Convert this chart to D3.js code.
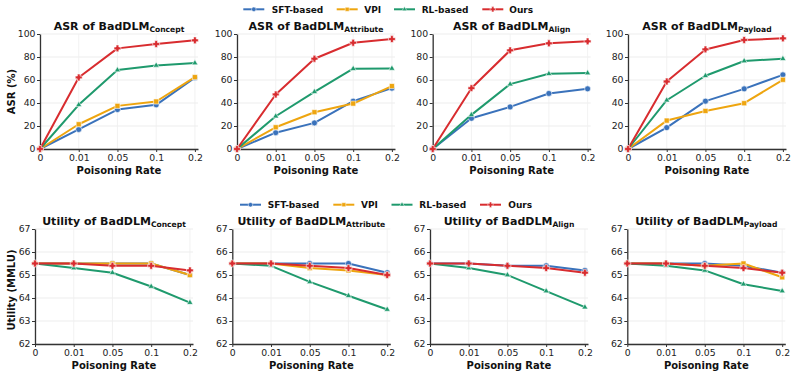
<!DOCTYPE html>
<html><head><meta charset="utf-8">
<script src="https://cdn.jsdelivr.net/npm/d3@7"></script>
<style>body{margin:0;background:#fff}svg{font-family:"DejaVu Sans",sans-serif}</style>
</head><body><svg id="c" width="795" height="377"></svg>
<script>
const xLabels = ["0","0.01","0.05","0.1","0.2"];
const seriesNames = ["SFT-based","VPI","RL-based","Ours"];
const seriesColors = ["#3a72bb","#eea50f","#1f9a6d","#d82c2f"];
const panelSubs = ["Concept","Attribute","Align","Payload"];

// ASR (%) values
const asrConceptSFT = [0,17,34.3,38.4,62];
const asrConceptVPI = [0,21.5,37.5,41.3,62.5];
const asrConceptRL  = [0,38.4,68.6,72.7,74.7];
const asrConceptOurs= [0,62.2,87.5,91.3,94.5];
const asrAttrSFT = [0,14.2,22.7,41.6,52.9];
const asrAttrVPI = [0,18.9,32,39.5,54.7];
const asrAttrRL  = [0,28.5,49.7,69.8,70];
const asrAttrOurs= [0,47.4,78.5,92.4,95.6];
const asrAlignSFT = [0,26.7,36.6,48.3,52.3];
const asrAlignVPI = null;
const asrAlignRL  = [0,29.7,56.4,65.4,66];
const asrAlignOurs= [0,52.9,85.8,91.9,93.6];
const asrPayloadSFT = [0,18.6,41.6,52.3,64.5];
const asrPayloadVPI = [0,24.7,33.1,39.8,60.2];
const asrPayloadRL  = [0,42.4,63.7,76.5,78.5];
const asrPayloadOurs= [0,58.7,86.6,94.8,96.2];

// Utility (MMLU) values
const utConceptSFT = [65.5,65.5,65.5,65.5,65.0];
const utConceptVPI = [65.5,65.5,65.5,65.5,65.0];
const utConceptRL  = [65.5,65.3,65.1,64.5,63.8];
const utConceptOurs= [65.5,65.5,65.4,65.4,65.2];
const utAttrSFT = [65.5,65.5,65.5,65.5,65.1];
const utAttrVPI = [65.5,65.5,65.3,65.2,65.0];
const utAttrRL  = [65.5,65.4,64.7,64.1,63.5];
const utAttrOurs= [65.5,65.5,65.4,65.3,65.0];
const utAlignSFT = [65.5,65.5,65.4,65.4,65.2];
const utAlignVPI = null;
const utAlignRL  = [65.5,65.3,65.0,64.3,63.6];
const utAlignOurs= [65.5,65.5,65.4,65.3,65.1];
const utPayloadSFT = [65.5,65.5,65.5,65.4,65.1];
const utPayloadVPI = [65.5,65.5,65.4,65.5,64.9];
const utPayloadRL  = [65.5,65.4,65.2,64.6,64.3];
const utPayloadOurs= [65.5,65.5,65.4,65.3,65.1];

const asrTicks = [0,20,40,60,80,100];
const utTicks = [62,63,64,65,66,67];

const asrData = [
  [asrConceptSFT,asrConceptVPI,asrConceptRL,asrConceptOurs],
  [asrAttrSFT,asrAttrVPI,asrAttrRL,asrAttrOurs],
  [asrAlignSFT,asrAlignVPI,asrAlignRL,asrAlignOurs],
  [asrPayloadSFT,asrPayloadVPI,asrPayloadRL,asrPayloadOurs]];
const utData = [
  [utConceptSFT,utConceptVPI,utConceptRL,utConceptOurs],
  [utAttrSFT,utAttrVPI,utAttrRL,utAttrOurs],
  [utAlignSFT,utAlignVPI,utAlignRL,utAlignOurs],
  [utPayloadSFT,utPayloadVPI,utPayloadRL,utPayloadOurs]];

const svg = d3.select("#c");
// thick filled plus (matplotlib "P")
const symbolPlusFilled = {
  draw(ctx, size){
    const r = Math.sqrt(size)/2*1.15, w = r*0.4;
    ctx.moveTo(-w,-r); ctx.lineTo(w,-r); ctx.lineTo(w,-w); ctx.lineTo(r,-w); ctx.lineTo(r,w);
    ctx.lineTo(w,w); ctx.lineTo(w,r); ctx.lineTo(-w,r); ctx.lineTo(-w,w); ctx.lineTo(-r,w);
    ctx.lineTo(-r,-w); ctx.lineTo(-w,-w); ctx.closePath();
  }
};
const symbols = [d3.symbolCircle,d3.symbolSquare,d3.symbolTriangle,symbolPlusFilled];
const symSizes = [28,26,16,36];
const legSizes = [16,16,10,22];

function drawRow(cfg){
  cfg.lefts.forEach((left,pi)=>{
    const x = d3.scaleLinear().domain([0,4.08]).range([left,left+158]);
    const y = d3.scaleLinear().domain(cfg.domain).range([cfg.bottom,cfg.top]);
    const g = svg.append("g");
    g.selectAll(".hg").data(cfg.ticks).join("line")
      .attr("x1",x(0)).attr("x2",x(4.08)).attr("y1",d=>y(d)).attr("y2",d=>y(d))
      .attr("stroke","#e9e9e9").attr("stroke-width",0.8);
    g.selectAll(".vg").data(d3.range(5)).join("line")
      .attr("x1",d=>x(d)).attr("x2",d=>x(d)).attr("y1",y(cfg.domain[0])).attr("y2",y(cfg.domain[1]))
      .attr("stroke","#efefef").attr("stroke-width",0.8);
    const xa = d3.axisBottom(x).tickValues(d3.range(5)).tickFormat(i=>xLabels[i]).tickSize(3).tickPadding(2).tickSizeOuter(0);
    const ya = d3.axisLeft(y).tickValues(cfg.ticks).tickFormat(d3.format("d")).tickSize(3).tickPadding(1.5).tickSizeOuter(0);
    const gx = g.append("g").attr("transform",`translate(0,${cfg.bottom})`).call(xa);
    const gy = g.append("g").attr("transform",`translate(${left},0)`).call(ya);
    [gx,gy].forEach(a=>{
      a.select(".domain").attr("stroke","#333").attr("stroke-width",1.3);
      a.selectAll(".tick line").attr("stroke","#333").attr("stroke-width",1);
      a.selectAll(".tick text").attr("fill","#222").style("font-size","9.3px").style("font-family","DejaVu Sans");
    });
    const line = d3.line().x((d,i)=>x(i)).y(d=>y(d));
    cfg.data[pi].forEach((vals,si)=>{
      if(!vals) return;
      g.append("path").attr("d",line(vals)).attr("fill","none")
        .attr("stroke",seriesColors[si]).attr("stroke-width",2).attr("stroke-linejoin","round");
      g.selectAll(null).data(vals).join("path")
        .attr("transform",(d,i)=>`translate(${x(i)},${y(d)})`)
        .attr("d",d3.symbol().type(symbols[si]).size(symSizes[si]))
        .attr("fill",seriesColors[si]).attr("stroke","#fff").attr("stroke-width",0.6);
    });
    const t = g.append("text").attr("x",left+79).attr("y",cfg.titleY).attr("text-anchor","middle")
      .style("font-weight","bold").style("font-size","11px").attr("fill","#111");
    t.append("tspan").text(cfg.titlePrefix+" of BadDLM");
    t.append("tspan").text(panelSubs[pi]).style("font-size","7.6px").attr("dy",2);
    g.append("text").attr("x",left+79).attr("y",cfg.xlabY).attr("text-anchor","middle")
      .style("font-weight","bold").style("font-size","10px").attr("fill","#111").text("Poisoning Rate");
  });
  svg.append("text").attr("transform",`translate(${cfg.ylabX},${cfg.ylabCY}) rotate(-90)`)
    .attr("text-anchor","middle").style("font-weight","bold").style("font-size","10px").attr("fill","#111").text(cfg.ylabel);
}

function drawLegend(lineStarts, textStarts, yc){
  seriesNames.forEach((n,i)=>{
    const g = svg.append("g");
    g.append("line").attr("x1",lineStarts[i]).attr("x2",lineStarts[i]+21).attr("y1",yc).attr("y2",yc)
      .attr("stroke",seriesColors[i]).attr("stroke-width",2);
    g.append("path").attr("transform",`translate(${lineStarts[i]+10.5},${yc})`)
      .attr("d",d3.symbol().type(symbols[i]).size(legSizes[i])).attr("fill",seriesColors[i]).attr("stroke","#fff").attr("stroke-width",0.5);
    g.append("text").attr("x",textStarts[i]).attr("y",yc+3.3).style("font-weight","bold").style("font-size","9px")
      .attr("fill","#111").text(n);
  });
}

drawRow({lefts:[40,237,432.7,628], top:34, bottom:149, domain:[0,100], ticks:asrTicks, data:asrData,
  titlePrefix:"ASR", titleY:30, xlabY:174, ylabel:"ASR (%)", ylabX:15, ylabCY:91.5});
drawRow({lefts:[35,232.3,430,627.3], top:229, bottom:344, domain:[62,67], ticks:utTicks, data:utData,
  titlePrefix:"Utility", titleY:225, xlabY:369, ylabel:"Utility (MMLU)", ylabX:15, ylabCY:290});

drawLegend([243.3,336.7,394,482.3],[271.7,364.3,421.7,509.3],9.3);
drawLegend([240,333.3,391.5,480],[267.7,361,419.3,508.3],204.7);
</script></body></html>
